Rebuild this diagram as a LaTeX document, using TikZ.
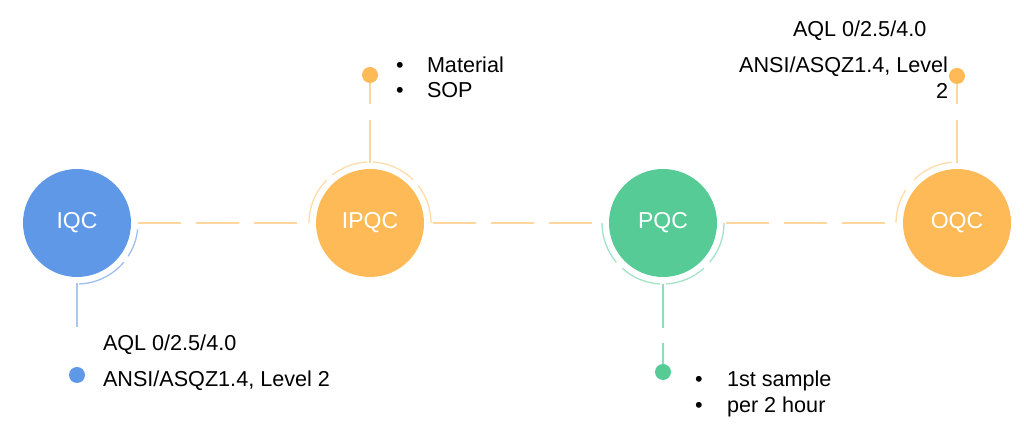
\documentclass[tikz,border=0pt]{standalone}
\usepackage{fontspec}
\setmainfont{Liberation Sans}
\definecolor{qblue}{HTML}{5F98E6}
\definecolor{qorange}{HTML}{FFBA58}
\definecolor{qgreen}{HTML}{56CB96}
\definecolor{linor}{HTML}{FFD79E}
\definecolor{lineblue}{HTML}{A9C5F0}
\definecolor{linegreen}{HTML}{8EDCB8}
\definecolor{ringblue}{HTML}{9EBFEE}
\definecolor{ringor}{HTML}{FFDCA8}
\definecolor{ringgreen}{HTML}{A3E2C5}
\begin{document}
\begin{tikzpicture}[x=1pt,y=1pt,
  stage/.style={circle, minimum size=108pt, inner sep=0pt, outer sep=0pt, text=white, font=\fontsize{23}{27}\selectfont},
  pin/.style={circle, minimum size=16pt, inner sep=0pt, outer sep=0pt},
  txt/.style={inner sep=0pt, outer sep=0pt, font=\fontsize{21.6}{26}\selectfont, text=black},
  hline/.style={draw=linor, line width=1.2pt, dash pattern=on 43pt off 15pt},
  ring/.style={line width=1.3pt}
]
\useasboundingbox (0,0) rectangle (1024,435);
% stages
\node[stage, fill=qblue]   (IQC)  at (77,212)  {IQC};
\node[stage, fill=qorange] (IPQC) at (370,212) {IPQC};
\node[stage, fill=qgreen]  (PQC)  at (663,212) {PQC};
\node[stage, fill=qorange] (OQC)  at (957,212) {OQC};
% pins
\node[pin, fill=qblue]   (pIQC)  at (77,60)  {};
\node[pin, fill=qorange] (pIPQC) at (370,360) {};
\node[pin, fill=qgreen]  (pPQC)  at (663,63)  {};
\node[pin, fill=qorange] (pOQC)  at (957,359) {};
% horizontal connectors
\draw[hline] ([xshift=7pt]IQC.east) -- ([xshift=-17pt]IPQC.west);
\draw[hline] ([xshift=9pt]IPQC.east) -- ([xshift=-17pt]PQC.west);
\draw[hline] ([xshift=9pt]PQC.east) -- ([xshift=-18pt]OQC.west);
% vertical connectors
\draw[draw=lineblue, line width=1.2pt, dash pattern=on 44pt off 100pt] ([yshift=-6pt]IQC.south) -- (pIQC.north);
\draw[draw=linegreen, line width=1.2pt, dash pattern=on 44pt off 15pt] ([yshift=-7pt]PQC.south) -- (pPQC.north);
\draw[draw=linor, line width=1.2pt, dash pattern=on 43pt off 16pt] ([yshift=6pt]IPQC.north) -- (pIPQC.south);
\draw[draw=linor, line width=1.2pt, dash pattern=on 43pt off 16pt] ([yshift=6pt]OQC.north) -- (pOQC.south);
% rings
\draw[ring, ringblue] ([shift={(-6:61)}]IQC.center) arc[start angle=-6, end angle=-33, radius=61];
\draw[ring, ringblue] ([shift={(-40:61)}]IQC.center) arc[start angle=-40, end angle=-88, radius=61];
\draw[ring, ringor] ([shift={(180:61)}]IPQC.center) arc[start angle=180, end angle=135, radius=61];
\draw[ring, ringor] ([shift={(128:61)}]IPQC.center) arc[start angle=128, end angle=93, radius=61];
\draw[ring, ringor] ([shift={(87:61)}]IPQC.center) arc[start angle=87, end angle=45, radius=61];
\draw[ring, ringor] ([shift={(38:61)}]IPQC.center) arc[start angle=38, end angle=0, radius=61];
\draw[ring, ringgreen] ([shift={(180:61)}]PQC.center) arc[start angle=180, end angle=220, radius=61];
\draw[ring, ringgreen] ([shift={(228:61)}]PQC.center) arc[start angle=228, end angle=267, radius=61];
\draw[ring, ringgreen] ([shift={(273:61)}]PQC.center) arc[start angle=273, end angle=312, radius=61];
\draw[ring, ringgreen] ([shift={(320:61)}]PQC.center) arc[start angle=320, end angle=360, radius=61];
\draw[ring, ringor] ([shift={(180:61)}]OQC.center) arc[start angle=180, end angle=147, radius=61];
\draw[ring, ringor] ([shift={(135:61)}]OQC.center) arc[start angle=135, end angle=95, radius=61];
% texts
\node[txt, anchor=base west] (tIQCa) at (103,84) {AQL 0/2.5/4.0};
\node[txt, anchor=base west] (tIQCb) at (103,48) {ANSI/ASQZ1.4, Level 2};
\node[txt, anchor=base] (bIPQCa) at (400,362) {•};
\node[txt, anchor=base west] (tIPQCa) at (427,362) {Material};
\node[txt, anchor=base] (bIPQCb) at (400,337) {•};
\node[txt, anchor=base west] (tIPQCb) at (427,337) {SOP};
\node[txt, anchor=base] (bPQCa) at (699,48) {•};
\node[txt, anchor=base west] (tPQCa) at (727,48) {1st sample};
\node[txt, anchor=base] (bPQCb) at (699,22) {•};
\node[txt, anchor=base west] (tPQCb) at (727,22) {per 2 hour};
\node[txt, anchor=base west] (tOQCa) at (793,398) {AQL 0/2.5/4.0};
\node[txt, anchor=base east] (tOQCb) at (948,362) {ANSI/ASQZ1.4, Level};
\node[txt, anchor=base east] (tOQCc) at (948,336) {2};
\end{tikzpicture}
\end{document}
